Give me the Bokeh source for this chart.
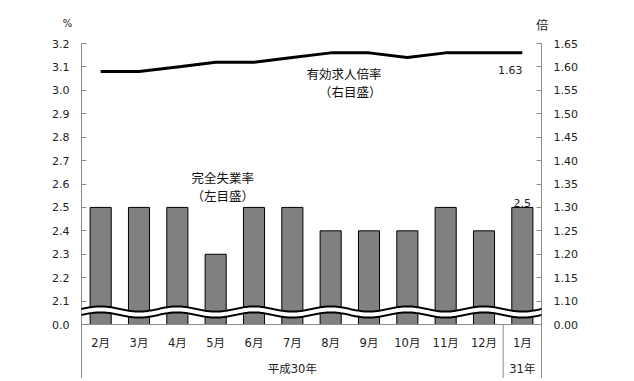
import numpy as np
from bokeh.plotting import figure
from bokeh.models import Range1d, LinearAxis, FixedTicker, Span, Label, PolyAnnotation
from bokeh.embed import file_html
from bokeh.resources import INLINE
from bokeh.core.properties import value

# ---- data ----
months = ["2月", "3月", "4月", "5月", "6月", "7月", "8月", "9月", "10月", "11月", "12月", "1月"]
years = ["平成30年", "31年"]
year_counts = [11, 1]
unemployment = [2.5, 2.5, 2.5, 2.3, 2.5, 2.5, 2.4, 2.4, 2.4, 2.5, 2.4, 2.5]
job_ratio = [1.59, 1.59, 1.60, 1.61, 1.61, 1.62, 1.63, 1.63, 1.62, 1.63, 1.63, 1.63]
left_ticks = [2.0, 2.1, 2.2, 2.3, 2.4, 2.5, 2.6, 2.7, 2.8, 2.9, 3.0, 3.1, 3.2]
left_labels = ["0.0", "2.1", "2.2", "2.3", "2.4", "2.5", "2.6", "2.7", "2.8", "2.9", "3.0", "3.1", "3.2"]
right_ticks = [1.05, 1.10, 1.15, 1.20, 1.25, 1.30, 1.35, 1.40, 1.45, 1.50, 1.55, 1.60, 1.65]
right_labels = ["0.00", "1.10", "1.15", "1.20", "1.25", "1.30", "1.35", "1.40", "1.45", "1.50", "1.55", "1.60", "1.65"]

# ---- layout geometry ----
W, H = 626, 378
BL, BR, BT, BB = 81, 85, 43, 0
frame_h = H - BT - BB
ppu_l = 281 / 1.2      # pixels per unit, left axis
ppu_r = 281 / 0.6      # pixels per unit, right axis
y_top, r_top = 3.2, 1.65
y_start = y_top - frame_h / ppu_l
r_start = r_top - frame_h / ppu_r
n = len(months)
ppx = (W - BL - BR) / n

def dx(px):  # page px -> x data
    return (px - BL) / ppx

def dy(py):  # page px -> left y data
    return y_top - (py - BT) / ppu_l

FONT_NUM = "DejaVu Sans, Noto Sans CJK JP"
FONT_JP = "Noto Sans CJK JP"
GRAY = "#8c8c8c"

p = figure(width=W, height=H, output_backend="svg", toolbar_location=None,
           x_range=Range1d(0, n), y_range=Range1d(y_start, y_top),
           x_axis_location=None, y_axis_location="left",
           min_border_left=BL, min_border_right=BR, min_border_top=BT, min_border_bottom=BB)
p.outline_line_color = None
p.grid.grid_line_color = None
p.background_fill_color = "white"
p.extra_y_ranges = {"right": Range1d(r_start, r_top)}

def style_axis(ax, ticks, labels):
    ax.ticker = FixedTicker(ticks=ticks)
    ax.major_label_overrides = {t: l for t, l in zip(ticks, labels)}
    ax.axis_line_color = GRAY
    ax.major_tick_line_color = GRAY
    ax.minor_tick_line_color = None
    ax.major_tick_in = 5
    ax.major_tick_out = 0
    ax.major_label_standoff = 12
    ax.major_label_text_font = FONT_NUM
    ax.major_label_text_font_size = "11px"
    ax.major_label_text_color = "#222222"

style_axis(p.yaxis[0], left_ticks, left_labels)
rax = LinearAxis(y_range_name="right")
style_axis(rax, right_ticks, right_labels)
p.add_layout(rax, "right")

xc = [i + 0.5 for i in range(n)]

# bars
p.vbar(x=xc, top=unemployment, bottom=left_ticks[0], width=0.55,
       fill_color="#808080", line_color="black", line_width=1)

# line
p.line(x=xc, y=job_ratio, y_range_name="right", line_color="black", line_width=3)

# x baseline and group separator
p.add_layout(Span(location=left_ticks[0], dimension="width", line_color=GRAY, line_width=1))
sep = float(year_counts[0])
p.segment(x0=[sep], y0=[left_ticks[0]], x1=[sep], y1=[y_start], line_color=GRAY, line_width=1)

# category labels
p.text(x=xc, y=[dy(342)] * n, text=months, text_align="center", text_baseline="middle",
       text_font=value(FONT_NUM), text_font_size="11.5px", text_color="#222222")
starts = np.cumsum([0] + year_counts[:-1])
ycent = [s + c / 2 for s, c in zip(starts, year_counts)]
p.text(x=ycent, y=[dy(368)] * len(years), text=years, text_align="center", text_baseline="middle",
       text_font=value(FONT_NUM), text_font_size="11.5px", text_color="#222222")

# data labels
p.text(x=[xc[-1]], y=[unemployment[-1]], text=[f"{unemployment[-1]}"], text_align="center",
       text_baseline="bottom", text_font=value(FONT_NUM), text_font_size="11px", text_color="#222222")
p.text(x=[xc[-1] - 12 / ppx], y=[job_ratio[-1] - 17.3 / ppu_r], y_range_name="right",
       text=[f"{job_ratio[-1]:.2f}"], text_align="center", text_baseline="middle",
       text_font=value(FONT_NUM), text_font_size="11px", text_color="#222222")

# series annotations
p.text(x=[dx(191), dx(191)], y=[dy(177), dy(195)], text=["完全失業率", "（左目盛）"],
       text_align="left", text_baseline="middle", text_font=value(FONT_JP),
       text_font_size="12.5px", text_color="#111111")
p.text(x=[dx(381), dx(381)], y=[dy(72.7), dy(91)], text=["有効求人倍率", "（右目盛）"],
       text_align="right", text_baseline="middle", text_font=value(FONT_JP),
       text_font_size="12.5px", text_color="#111111")

# unit labels (placed in the top panel so they are not clipped to the frame)
p.add_layout(Label(x=67 - BL, y=20, x_units="screen", y_units="screen", text="%",
                   text_align="center", text_baseline="middle",
                   text_font=FONT_NUM, text_font_size="10px", text_color="#222222"), "above")
p.add_layout(Label(x=541.7 - BL, y=8.3, x_units="screen", y_units="screen", text="倍",
                   text_align="center", text_baseline="middle",
                   text_font=FONT_JP, text_font_size="12px", text_color="#222222"), "above")

# axis break (wavy band)
wx = np.linspace(dx(58), dx(558), 400)
wc = dy(311.5) + (2.6 / ppu_l) * np.cos(np.pi * (wx - 0.5))
for half, col in [(4.0, "black"), (2.0, "white")]:
    h = half / ppu_l
    xs = list(wx) + list(wx[::-1])
    ys = list(wc + h) + list((wc - h)[::-1])
    p.add_layout(PolyAnnotation(xs=xs, ys=ys, fill_color=col, fill_alpha=1.0, line_color=None))

open("out.html", "w").write(file_html(p, INLINE))
